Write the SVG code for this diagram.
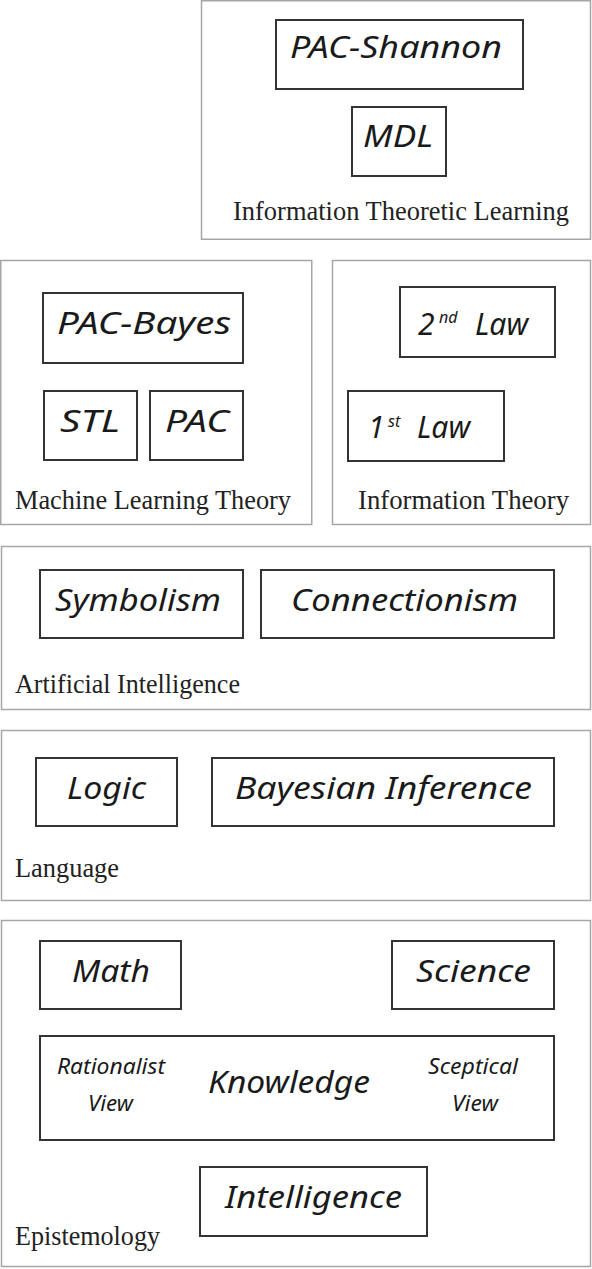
<svg xmlns="http://www.w3.org/2000/svg" width="592" height="1269" viewBox="0 0 592 1269">
<style>
.sec{fill:none;stroke:#a6a6a6;stroke-width:1.5}
.node{fill:#fff;stroke:#333;stroke-width:2}
.hw{font-family:"Noto Sans","Open Sans",sans-serif;font-style:italic;font-size:30px;fill:#1a1a1a}
.hs{font-family:"Noto Sans","Open Sans",sans-serif;font-style:italic;font-size:21px;fill:#1a1a1a}
.sup{font-size:16px}
.lab{font-family:"Liberation Serif",serif;font-size:27px;fill:#222}
</style>
<rect width="592" height="1269" fill="#fff"/>
<g id="connectors"/>

<g id="sec-itl">
<rect class="sec" x="201.5" y="0.75" width="389" height="238.5"/>
<text class="lab" x="233" y="220" textLength="336" lengthAdjust="spacingAndGlyphs">Information Theoretic Learning</text>
</g>
<g id="n-pac-shannon"><rect class="node" x="276" y="20" width="247" height="69"/><text class="hw" x="290" y="58" textLength="212" lengthAdjust="spacingAndGlyphs">PAC-Shannon</text></g>
<g id="n-mdl"><rect class="node" x="352" y="107" width="94" height="69"/><text class="hw" x="363" y="147" textLength="70" lengthAdjust="spacingAndGlyphs">MDL</text></g>

<g id="sec-mlt">
<rect class="sec" x="0.75" y="260.5" width="311" height="264"/>
<text class="lab" x="15" y="509" textLength="276" lengthAdjust="spacingAndGlyphs">Machine Learning Theory</text>
</g>
<g id="n-pac-bayes"><rect class="node" x="43" y="293" width="200" height="70"/><text class="hw" x="57" y="334" textLength="174" lengthAdjust="spacingAndGlyphs">PAC-Bayes</text></g>
<g id="n-stl"><rect class="node" x="44" y="391" width="93" height="69"/><text class="hw" x="60" y="432" textLength="60" lengthAdjust="spacingAndGlyphs">STL</text></g>
<g id="n-pac"><rect class="node" x="150" y="391" width="93" height="69"/><text class="hw" x="165" y="432" textLength="64" lengthAdjust="spacingAndGlyphs">PAC</text></g>

<g id="sec-it">
<rect class="sec" x="332.5" y="260.5" width="258" height="264"/>
<text class="lab" x="358" y="509" textLength="211" lengthAdjust="spacingAndGlyphs">Information Theory</text>
</g>
<g id="n-2nd-law"><rect class="node" x="400" y="287" width="155" height="70"/>
<text class="hw" x="418" y="335">2<tspan class="sup" x="439" dy="-12">nd</tspan><tspan x="475" dy="12">Law</tspan></text></g>
<g id="n-1st-law"><rect class="node" x="348" y="391" width="156" height="70"/>
<text class="hw" x="368" y="438">1<tspan class="sup" x="388" dy="-11">st</tspan><tspan x="417" dy="11">Law</tspan></text></g>

<g id="sec-ai">
<rect class="sec" x="1.5" y="546.5" width="589" height="163"/>
<text class="lab" x="15" y="693" textLength="225" lengthAdjust="spacingAndGlyphs">Artificial Intelligence</text>
</g>
<g id="n-symbolism"><rect class="node" x="40" y="570" width="203" height="68"/><text class="hw" x="55" y="611" textLength="166" lengthAdjust="spacingAndGlyphs">Symbolism</text></g>
<g id="n-connectionism"><rect class="node" x="261" y="570" width="293" height="68"/><text class="hw" x="291" y="611" textLength="227" lengthAdjust="spacingAndGlyphs">Connectionism</text></g>

<g id="sec-language">
<rect class="sec" x="1.5" y="730.5" width="589" height="170"/>
<text class="lab" x="15" y="877" textLength="104" lengthAdjust="spacingAndGlyphs">Language</text>
</g>
<g id="n-logic"><rect class="node" x="36" y="758" width="141" height="68"/><text class="hw" x="67" y="799" textLength="79" lengthAdjust="spacingAndGlyphs">Logic</text></g>
<g id="n-bayesian"><rect class="node" x="212" y="758" width="342" height="68"/><text class="hw" x="235" y="799" textLength="297" lengthAdjust="spacingAndGlyphs">Bayesian Inference</text></g>

<g id="sec-epistemology">
<rect class="sec" x="1.5" y="920.5" width="589" height="346"/>
<text class="lab" x="15" y="1245" textLength="145" lengthAdjust="spacingAndGlyphs">Epistemology</text>
</g>
<g id="n-math"><rect class="node" x="40" y="941" width="141" height="68"/><text class="hw" x="72" y="982" textLength="78" lengthAdjust="spacingAndGlyphs">Math</text></g>
<g id="n-science"><rect class="node" x="392" y="941" width="162" height="68"/><text class="hw" x="416" y="982" textLength="115" lengthAdjust="spacingAndGlyphs">Science</text></g>
<g id="n-knowledge"><rect class="node" x="40" y="1036" width="514" height="104"/>
<text class="hw" x="208" y="1093" textLength="162" lengthAdjust="spacingAndGlyphs">Knowledge</text>
<text class="hs" x="57" y="1074" textLength="108" lengthAdjust="spacingAndGlyphs">Rationalist</text>
<text class="hs" x="88" y="1111" textLength="45" lengthAdjust="spacingAndGlyphs">View</text>
<text class="hs" x="428" y="1074" textLength="90" lengthAdjust="spacingAndGlyphs">Sceptical</text>
<text class="hs" x="452" y="1111" textLength="46" lengthAdjust="spacingAndGlyphs">View</text></g>
<g id="n-intelligence"><rect class="node" x="200" y="1167" width="227" height="69"/><text class="hw" x="225" y="1208" textLength="177" lengthAdjust="spacingAndGlyphs">Intelligence</text></g>
</svg>
